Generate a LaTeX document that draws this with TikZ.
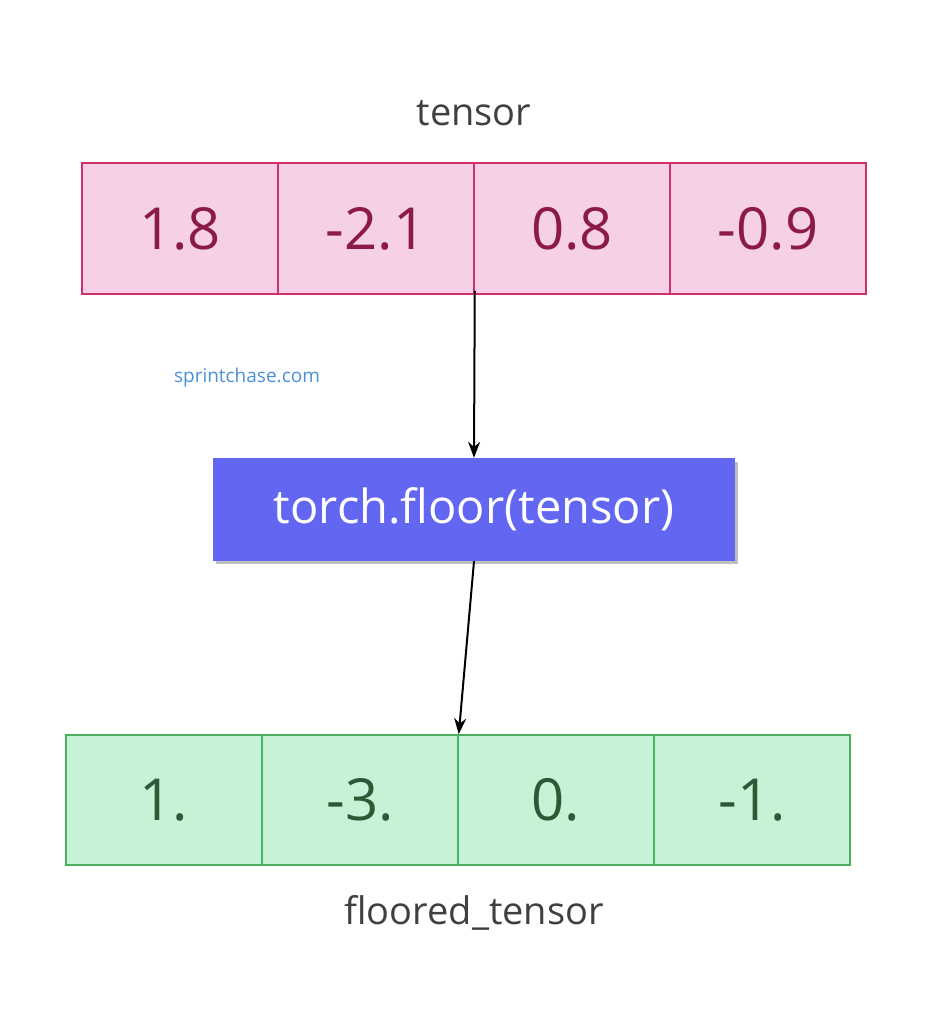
\documentclass[tikz,border=0pt]{standalone}
\usepackage{fontspec}
\setmainfont{Open Sans}
\usetikzlibrary{arrows.meta}
\definecolor{pinkfill}{HTML}{F5D0E6}
\definecolor{pinkdraw}{HTML}{D0306A}
\definecolor{pinktext}{HTML}{8B1A4A}
\definecolor{greenfill}{HTML}{C6F2D6}
\definecolor{greendraw}{HTML}{4CB060}
\definecolor{greentext}{HTML}{2D5A35}
\definecolor{opfill}{HTML}{6366F1}
\definecolor{labeltext}{HTML}{404040}
\definecolor{linkblue}{HTML}{4A90D9}
\tikzset{
 pcell/.style={draw=pinkdraw,line width=1.5pt,fill=pinkfill,text=pinktext,minimum width=196pt,minimum height=131pt,font=\fontsize{58}{60}\selectfont,inner sep=0pt},
 gcell/.style={draw=greendraw,line width=1.5pt,fill=greenfill,text=greentext,minimum width=196pt,minimum height=130pt,font=\fontsize{58}{60}\selectfont,inner sep=0pt},
 title/.style={text=labeltext,font=\fontsize{38}{40}\selectfont},
 arr/.style={-{Stealth[length=16pt,width=12pt]},line width=2pt,black}
}
\begin{document}
\begin{tikzpicture}[x=1pt,y=-1pt]
\useasboundingbox (0,0) rectangle (932,1024);
\node[title] (tl) at (474,113) {tensor};
\node[pcell] (t1) at (180,228.5) {1.8};
\node[pcell] (t2) at (376,228.5) {-2.1};
\node[pcell] (t3) at (572,228.5) {0.8};
\node[pcell] (t4) at (768,228.5) {-0.9};
\node[text=linkblue,font=\fontsize{19}{20}\selectfont] (wm) at (247,378) {sprintchase.com};
\fill[black!25] (216,462) rectangle (738,564);
\node[fill=opfill,text=white,minimum width=522pt,minimum height=103pt,font=\fontsize{47}{50}\selectfont,inner sep=0pt] (op) at (474,509.5) {torch.floor(tensor)};
\node[gcell] (b1) at (164,800) {1.};
\node[gcell] (b2) at (360,800) {-3.};
\node[gcell] (b3) at (556,800) {0.};
\node[gcell] (b4) at (752,800) {-1.};
\node[title] (bl) at (474,913) {floored\_tensor};
\draw[arr] (t2.south east) ++(0,-4) -- (op.north);
\draw[arr] (op.south) -- (b2.north east);
\end{tikzpicture}
\end{document}
